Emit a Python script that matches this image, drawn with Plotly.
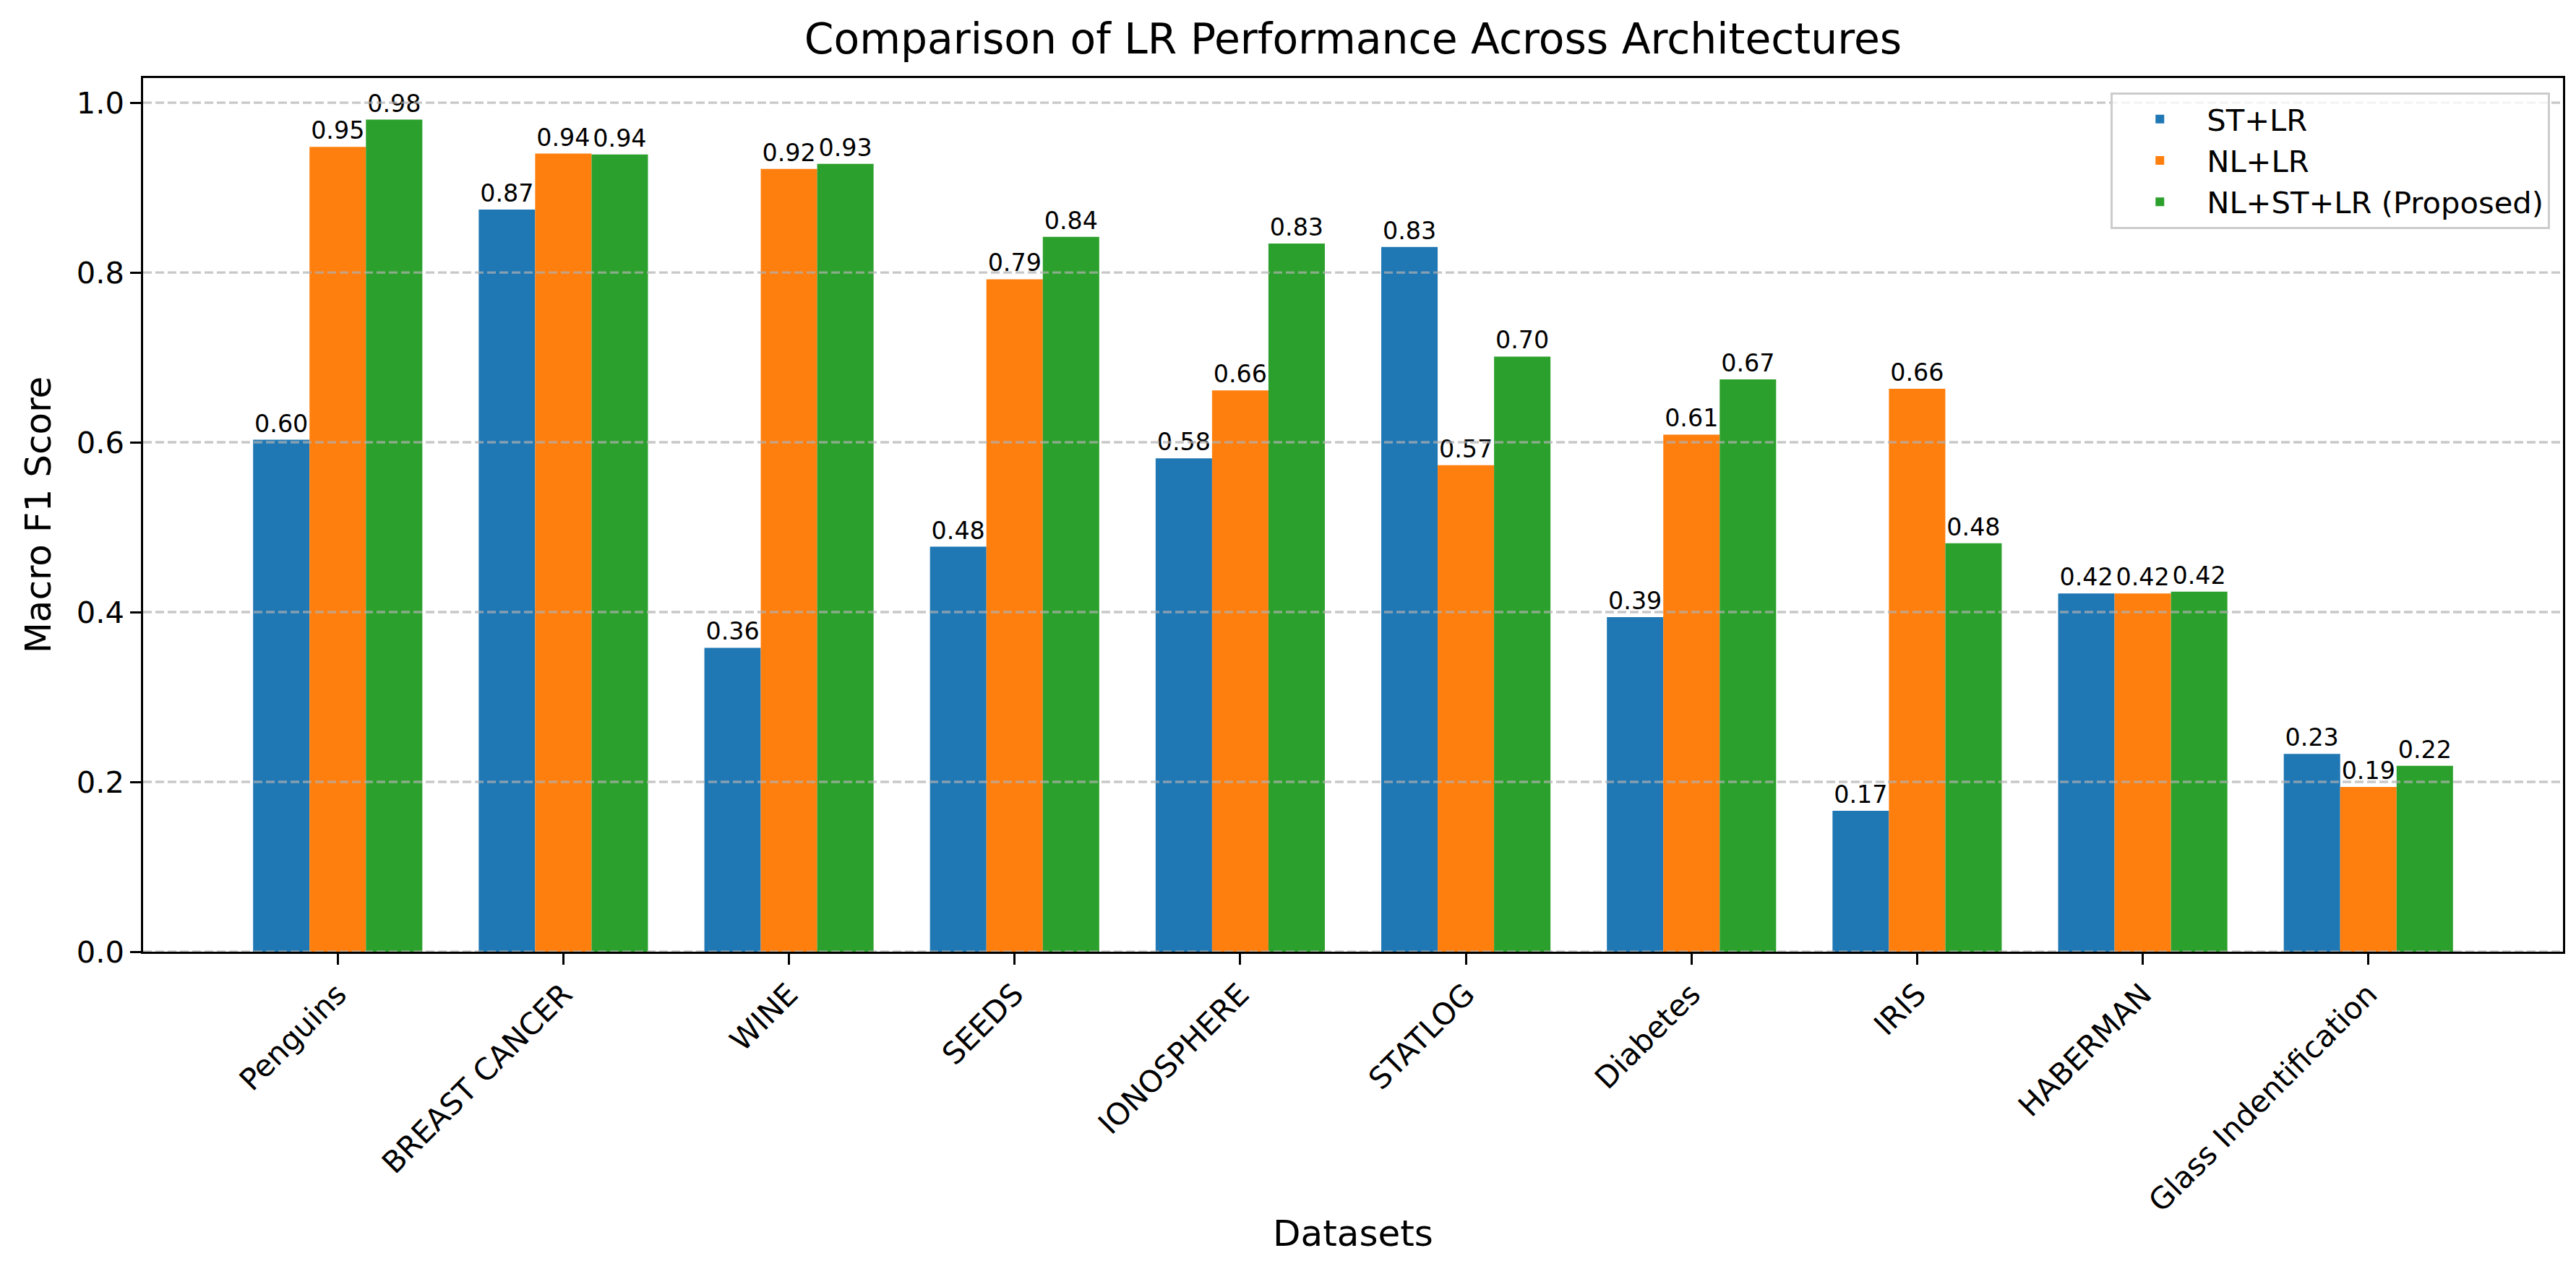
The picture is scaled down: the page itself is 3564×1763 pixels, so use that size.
import plotly.graph_objects as go

datasets = ["Penguins", "BREAST CANCER", "WINE", "SEEDS", "IONOSPHERE",
            "STATLOG", "Diabetes", "IRIS", "HABERMAN", "Glass Indentification"]
st_lr = [0.603, 0.874, 0.358, 0.477, 0.581, 0.830, 0.394, 0.166, 0.422, 0.233]
nl_lr = [0.948, 0.940, 0.922, 0.792, 0.661, 0.573, 0.609, 0.663, 0.422, 0.194]
nl_st_lr = [0.980, 0.939, 0.928, 0.842, 0.834, 0.701, 0.674, 0.481, 0.424, 0.219]
series_names = ["ST+LR", "NL+LR", "NL+ST+LR (Proposed)"]
series_colors = ["#1f77b4", "#ff7f0e", "#2ca02c"]
y_ticks = [0.0, 0.2, 0.4, 0.6, 0.8, 1.0]

W, H = 3564, 1763
L, R, T, B = 190, 26, 100, 454
FONT = "DejaVu Sans"
PT = 300 / 72.0

fig = go.Figure()
for name, vals, col in zip(series_names, [st_lr, nl_lr, nl_st_lr], series_colors):
    fig.add_trace(go.Bar(
        x=list(range(len(datasets))), y=vals, name=name,
        marker=dict(color=col, line=dict(width=0)),
        text=[f"{v:.2f}" for v in vals], textposition="outside",
        textfont=dict(family=FONT, size=8 * PT, color="black"),
        constraintext="none", cliponaxis=False,
    ))

# dashed grid drawn above the bars (as in the source)
for t in y_ticks:
    fig.add_shape(type="line", xref="paper", x0=0, x1=1, yref="y", y0=t, y1=t,
                  layer="above",
                  line=dict(color="rgba(176,176,176,0.7)", width=0.8 * PT, dash="12px,5px"))

fig.update_layout(
    width=W, height=H,
    margin=dict(l=L, r=R, t=T, b=B, autoexpand=False),
    paper_bgcolor="white", plot_bgcolor="white",
    barmode="group", bargap=0.25, bargroupgap=0,
    font=dict(family=FONT, size=10 * PT, color="black"),
    title=dict(text="Comparison of LR Performance Across Architectures",
               x=0.5, xref="paper", xanchor="center",
               y=1 - 46 / H, yref="container", yanchor="middle",
               font=dict(family=FONT, size=14 * PT, color="black")),
    showlegend=True,
    legend=dict(x=0.9946, y=0.9835, xanchor="right", yanchor="top",
                bgcolor="rgba(255,255,255,0.8)", bordercolor="#cccccc",
                borderwidth=0.8 * PT,
                font=dict(family=FONT, size=10 * PT, color="black"),
                tracegroupgap=0, itemwidth=120),
    xaxis=dict(
        range=[-0.8625, 9.8625], tickmode="array",
        tickvals=list(range(len(datasets))), ticktext=datasets,
        tickangle=-45, ticks="outside", ticklen=3.5 * PT, tickwidth=0.8 * PT,
        tickcolor="black", showline=True, linecolor="black", linewidth=0.8 * PT,
        mirror=True, showgrid=False, zeroline=False,
        tickfont=dict(family=FONT, size=10 * PT, color="black"),
        title=dict(text="Datasets", standoff=4,
                   font=dict(family=FONT, size=12 * PT, color="black")),
    ),
    yaxis=dict(
        range=[0, 1.029], tickmode="array", tickvals=y_ticks,
        ticktext=[f"{t:.1f}" for t in y_ticks],
        ticks="outside", ticklen=3.5 * PT, tickwidth=0.8 * PT, tickcolor="black",
        showline=True, linecolor="black", linewidth=0.8 * PT, mirror=True,
        showgrid=False, zeroline=False,
        tickfont=dict(family=FONT, size=10 * PT, color="black"),
        title=dict(text="Macro F1 Score", standoff=20,
                   font=dict(family=FONT, size=12 * PT, color="black")),
    ),
)

fig.write_html("out.html")
